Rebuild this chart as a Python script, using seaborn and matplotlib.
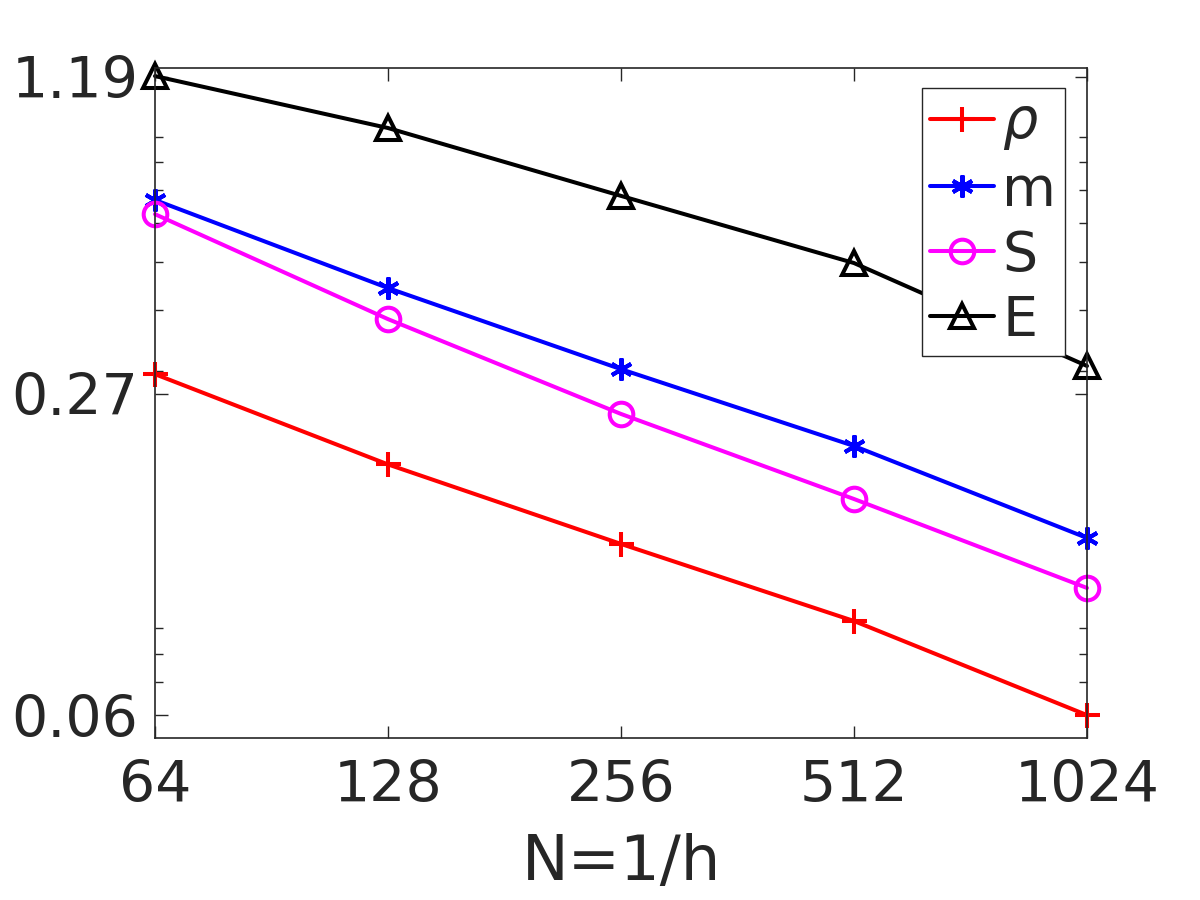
import numpy as np
import pandas as pd
import matplotlib
matplotlib.use("Agg")
import matplotlib.pyplot as plt
import seaborn as sns

# --- data ---
N = [64, 128, 256, 512, 1024]
err_rho = [0.296, 0.194, 0.1337, 0.0932, 0.0600]
err_m = [0.669, 0.443, 0.303, 0.2115, 0.1375]
err_S = [0.626, 0.383, 0.2457, 0.165, 0.1088]
err_E = [1.195, 0.937, 0.682, 0.498, 0.3076]

series_names = ["$\\rho$", "m", "S", "E"]
series_vals = [err_rho, err_m, err_S, err_E]

y_ticks = [0.06, 0.27, 1.19]
y_ticklabels = ["0.06", "0.27", "1.19"]
y_minor = [0.07, 0.08, 0.09, 0.3, 0.4, 0.5, 0.6, 0.7, 0.8, 0.9]

sns.set_theme(style="ticks")
plt.rcParams["font.family"] = ["DejaVu Sans"]
plt.rcParams["mathtext.fontset"] = "dejavusans"

colors = ["#ff0000", "#0000ff", "#ff00ff", "#000000"]
markers = ["+", (6, 2, 0), "o", "^"]
msizes = [18, 16, 17, 17]

fig = plt.figure(figsize=(12, 9), dpi=100)
ax = fig.add_axes([155 / 1200, 1 - 738 / 900, 932 / 1200, 670 / 900])

for name, vals, c, mk, ms in zip(series_names, series_vals, colors, markers, msizes):
    df = pd.DataFrame({"N": N, "err": vals})
    sns.lineplot(data=df, x="N", y="err", ax=ax, color=c, linewidth=2.9,
                 marker=mk, markersize=ms, markerfacecolor="none",
                 markeredgecolor=c, markeredgewidth=2.9, label=name,
                 clip_on=False)

ax.set_xscale("log", base=2)
ax.set_yscale("log")
ax.set_xlim(64, 1024)
ax.set_ylim(0.0539, 1.241)

ax.set_xticks(N)
ax.set_xticklabels([str(n) for n in N])
ax.xaxis.set_minor_locator(matplotlib.ticker.NullLocator())
ax.set_yticks(y_ticks)
ax.set_yticklabels(y_ticklabels)
ax.set_yticks(y_minor, minor=True)
ax.yaxis.set_minor_formatter(matplotlib.ticker.NullFormatter())

ax.tick_params(which="both", direction="in", top=True, right=True,
               colors="#262626", labelsize=41, width=1)
ax.tick_params(axis="x", pad=15)
ax.tick_params(axis="y", pad=12)
ax.tick_params(which="major", length=9)
ax.tick_params(which="minor", length=6)
for sp in ax.spines.values():
    sp.set_visible(True)
    sp.set_color("#262626")
    sp.set_linewidth(1.2)

ax.set_xlabel("N=1/h", fontsize=45, color="#262626", labelpad=14)
ax.set_ylabel("")

leg = ax.legend(loc="upper right", bbox_to_anchor=(0.976, 0.970), fontsize=40,
                frameon=True, fancybox=False, handlelength=1.15, handletextpad=0.15,
                labelspacing=0.2, borderpad=0.15, borderaxespad=0)
leg.get_frame().set_edgecolor("#262626")
leg.get_frame().set_linewidth(1.0)
leg.get_frame().set_alpha(1)

fig.savefig("out.png", dpi=100)
